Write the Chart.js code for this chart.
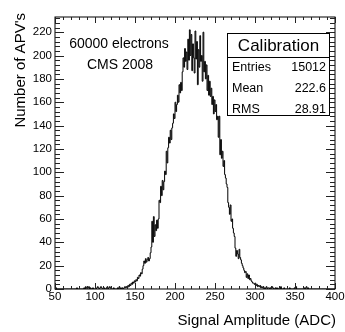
<!DOCTYPE html>
<html><head><meta charset="utf-8">
<script src="https://cdn.jsdelivr.net/npm/chart.js@4/dist/chart.umd.min.js"></script>
<style>html,body{margin:0;padding:0;background:#fff}canvas{display:block}</style>
</head><body>
<canvas id="c" width="345" height="332"></canvas>
<script>
// ---- data ----
const binStart = 50;
const binWidth = 1;
const counts = [
  0,0,1,0,0,0,0,0,0,0,        // 50
  0,0,0,0,0,0,0,0,0,0,        // 60
  0,0,0,0,0,0,0,0,1,0,        // 70
  0,0,0,0,0,0,0,1,0,2,        // 80
  1,0,1,2,0,1,0,0,1,0,        // 90
  0,0,0,1,2,1,0,1,2,1,        // 100
  0,0,1,0,0,1,2,0,1,2,        // 110
  1,0,0,0,1,0,0,0,0,1,        // 120
  0,2,0,1,0,1,0,1,2,1,        // 130
  2,1,3,2,4,3,5,4,6,5,        // 140
  7,6,8,7,10,9,12,11,14,13,   // 150
  17,20,24,22,26,23,25,27,24,26,       // 160
  31,36,58,40,62,45,55,50,59,52,       // 170
  60,76,74,88,80,93,85,92,101,98,      // 180
  118,108,121,130,125,136,128,138,142,150, // 190
  146,160,152,158,166,160,175,168,177,170, // 200
  186,198,190,206,195,203,188,214,196,222, // 210
  200,218,187,210,198,185,221,197,212,175, // 220
  205,190,217,195,200,178,220,186,195,180, // 230
  192,170,183,166,178,165,172,158,165,150, // 240
  162,152,158,145,148,130,148,115,128,112, // 250
  118,105,110,98,95,90,87,74,70,64,        // 260
  72,58,60,52,48,45,35,28,33,30,           // 270
  26,34,27,25,22,20,18,16,14,15,           // 280
  10,13,9,12,8,9,7,6,5,5,                  // 290
  4,5,3,4,2,3,2,3,1,2,                     // 300
  1,2,1,0,1,2,0,1,1,0,                     // 310
  1,0,2,1,0,0,1,0,1,0,                     // 320
  0,1,0,2,0,0,0,1,0,0,                     // 330
  0,0,0,0,1,0,0,0,0,0,                     // 340
  1,0,2,0,0,0,0,0,0,0,                     // 350
  0,0,1,0,1,2,0,1,0,0,                     // 360
  0,0,0,0,0,0,0,0,0,0,                     // 370
  0,0,0,0,0,0,0,0,0,0,                     // 380
  0,0,0,0,0,0,0,0,0,0                      // 390
];
const xTickLabels = [50,100,150,200,250,300,350,400];
const yTickLabels = [0,20,40,60,80,100,120,140,160,180,200,220];
const yMax = 233;
const annotationLines = ["60000 electrons", "CMS 2008"];
const statsTitle = "Calibration";
const statsNames = ["Entries", "Mean", "RMS"];
const statsValues = ["15012", "222.6", "28.91"];
const xTitle = "Signal Amplitude (ADC)";
const yTitle = "Number of APV's";

// ---- build histogram outline points ----
const points = counts.map((c, i) => ({ x: binStart + i * binWidth, y: c }));
points.push({ x: binStart + counts.length * binWidth, y: counts[counts.length - 1] });

const FONT = '"Liberation Sans", Arial, Helvetica, sans-serif';

const rootStyle = {
  id: 'rootStyle',
  afterDraw(chart) {
    const ctx = chart.ctx, a = chart.chartArea, xs = chart.scales.x, ys = chart.scales.y;
    ctx.save();
    // frame
    ctx.strokeStyle = '#000';
    ctx.lineWidth = 1;
    ctx.strokeRect(a.left, a.top, a.right - a.left, a.bottom - a.top);

    // x ticks (bottom & top)
    const xMinorStep = (xTickLabels[1] - xTickLabels[0]) / 5;
    ctx.strokeStyle = '#222';
    ctx.beginPath();
    for (let v = xTickLabels[0]; v <= xTickLabels[xTickLabels.length - 1] + 1e-9; v += xMinorStep) {
      const px = Math.round(xs.getPixelForValue(v)) + 0.5;
      const major = xTickLabels.includes(v);
      const len = major ? 6 : 3;
      ctx.moveTo(px, a.bottom); ctx.lineTo(px, a.bottom - len);
      ctx.moveTo(px, a.top); ctx.lineTo(px, a.top + len);
    }
    // y ticks (left & right)
    const yMinorStep = (yTickLabels[1] - yTickLabels[0]) / 5;
    for (let v = 0; v <= yMax + 1e-9; v += yMinorStep) {
      const py = Math.round(ys.getPixelForValue(v)) + 0.5;
      const major = yTickLabels.includes(v);
      const len = major ? 9 : 5;
      ctx.moveTo(a.left, py); ctx.lineTo(a.left + len, py);
      ctx.moveTo(a.right, py); ctx.lineTo(a.right - len, py);
    }
    ctx.stroke();

    // tick labels
    ctx.fillStyle = '#000';
    ctx.font = '11.5px ' + FONT;
    ctx.textAlign = 'center';
    ctx.textBaseline = 'alphabetic';
    xTickLabels.forEach(v => ctx.fillText(String(v), xs.getPixelForValue(v), a.bottom + 11));
    ctx.textAlign = 'right';
    ctx.textBaseline = 'middle';
    yTickLabels.forEach(v => ctx.fillText(String(v), a.left - 3, ys.getPixelForValue(v)));

    // axis titles
    ctx.font = '15px ' + FONT;
    ctx.textAlign = 'right';
    ctx.textBaseline = 'alphabetic';
    ctx.fillText(xTitle, a.right + 1, 325);
    ctx.save();
    ctx.translate(24.5, 13);
    ctx.rotate(-Math.PI / 2);
    ctx.fillText(yTitle, 0, 0);
    ctx.restore();

    // annotation text
    ctx.font = '14px ' + FONT;
    ctx.textAlign = 'center';
    ctx.fillText(annotationLines[0], 119, 48);
    ctx.fillText(annotationLines[1], 120, 69);

    // stats box
    const bx = 227.5, by = 33.5, bw = 102, bh = 82;
    ctx.fillStyle = '#fff';
    ctx.fillRect(bx, by, bw, bh);
    ctx.strokeStyle = '#000';
    ctx.strokeRect(bx, by, bw, bh);
    ctx.beginPath();
    ctx.moveTo(bx, 57.5); ctx.lineTo(bx + bw, 57.5);
    ctx.stroke();
    ctx.fillStyle = '#000';
    ctx.font = '17px ' + FONT;
    ctx.textAlign = 'center';
    ctx.textBaseline = 'middle';
    ctx.fillText(statsTitle, bx + bw / 2, 46);
    ctx.font = '12.5px ' + FONT;
    const rowsY = [67.5, 89, 109.5];
    statsNames.forEach((n, i) => {
      ctx.textAlign = 'left';
      ctx.fillText(n, 232, rowsY[i]);
      ctx.textAlign = 'right';
      ctx.fillText(statsValues[i], 326, rowsY[i]);
    });
    ctx.restore();
  }
};

new Chart(document.getElementById('c'), {
  type: 'line',
  data: {
    datasets: [{
      data: points,
      stepped: 'after',
      borderColor: '#000',
      borderWidth: 1,
      pointRadius: 0,
      fill: false,
      tension: 0
    }]
  },
  options: {
    responsive: false,
    animation: false,
    devicePixelRatio: 1,
    layout: { padding: { left: 55, right: 10, top: 17, bottom: 43 } },
    plugins: { legend: { display: false }, tooltip: { enabled: false } },
    scales: {
      x: { type: 'linear', min: 50, max: 400, display: false },
      y: { type: 'linear', min: 0, max: yMax, display: false }
    }
  },
  plugins: [rootStyle]
});
</script>
</body></html>
